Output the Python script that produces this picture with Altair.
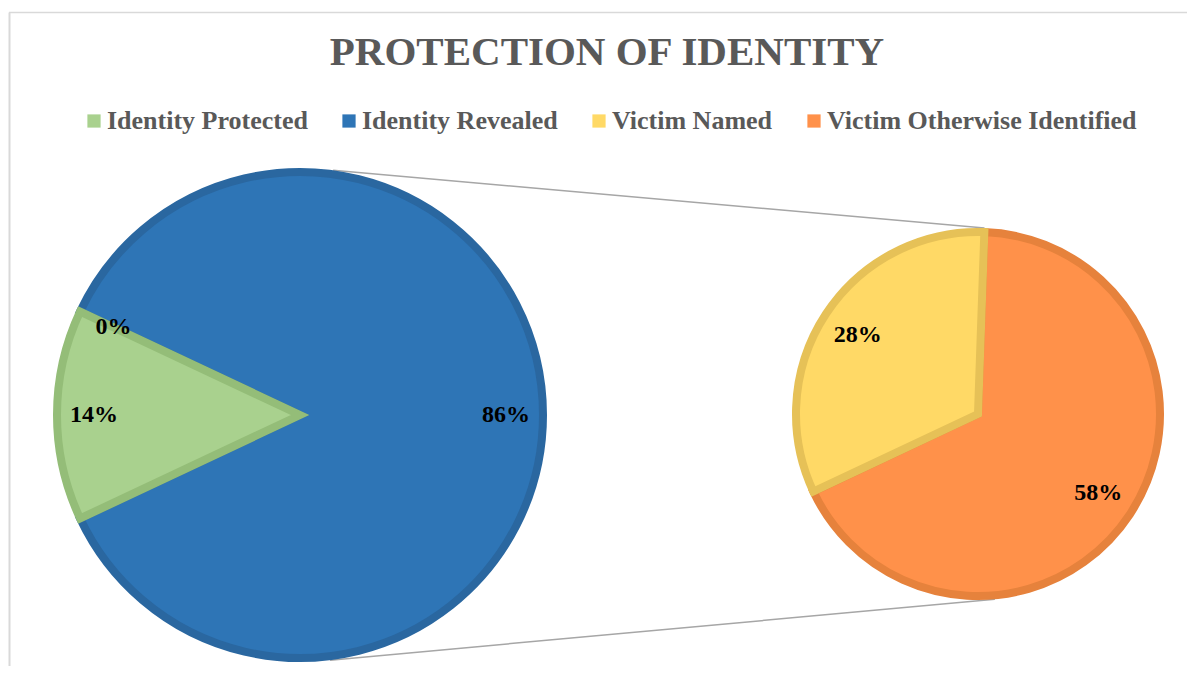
import math
import altair as alt
import pandas as pd

# ---------------- data ----------------
primary_segments = ["Identity Revealed", "Identity Protected", "Unassigned"]
primary_values = [86, 14, 0]
primary_labels = ["86%", "14%", "0%"]

secondary_segments = ["Victim Otherwise Identified", "Victim Named"]
secondary_values = [58, 28]
secondary_labels = ["58%", "28%"]

legend_categories = ["Identity Protected", "Identity Revealed", "Victim Named", "Victim Otherwise Identified"]

title_text = "PROTECTION OF IDENTITY"

# ---------------- styles / geometry ----------------
fill_colors = ["#A9D18E", "#2E75B6", "#FFD966", "#FF914A"]
edge_colors = ["#94BD78", "#2A67A0", "#E6C157", "#E6823C"]
SERIF = "Liberation Serif"

W, H = 1179, 658
L_CX, L_CY, L_R = 292, 407, 247
R_CX, R_CY, R_R = 970, 406, 186
STROKE = 8
left_start = math.radians(-64.8)
right_start = math.radians(2)

primary = pd.DataFrame({
    "segment": primary_segments,
    "value": primary_values,
    "label": primary_labels,
    "ord": list(range(len(primary_segments))),
})
secondary = pd.DataFrame({
    "segment": secondary_segments,
    "value": secondary_values,
    "label": secondary_labels,
    "ord": list(range(len(secondary_segments))),
})

color_scale = alt.Scale(domain=legend_categories, range=fill_colors)
stroke_scale = alt.Scale(domain=legend_categories, range=edge_colors)

legend = alt.Legend(
    orient="none", legendX=73, legendY=100, direction="horizontal", title=None,
    symbolType="square", symbolSize=175, symbolStrokeWidth=0,
    labelFont=SERIF, labelFontSize=26, labelFontWeight="bold",
    labelColor="#595959", labelLimit=0,
    labelOffset=0, columnPadding=28,
)


def pie(df, cx, cy, r, start, label_r):
    theta_scale = alt.Scale(range=[start, start + 2 * math.pi], nice=False, zero=True)
    base = alt.Chart(df).encode(
        theta=alt.Theta("value:Q", stack=True, scale=theta_scale),
        order=alt.Order("ord:Q"),
        detail="segment:N",
    )
    arcs = base.transform_filter("datum.value > 0").mark_arc(
        x=cx, y=cy, outerRadius=r - STROKE / 2, strokeWidth=STROKE, strokeJoin="miter"
    ).encode(
        color=alt.Color("segment:N", scale=color_scale, legend=legend),
        stroke=alt.Stroke("segment:N", scale=stroke_scale, legend=None),
    )
    labels = base.mark_text(
        x=cx, y=cy, radius=label_r, font=SERIF, fontSize=24, fontWeight="bold",
        color="black", align="center", baseline="middle",
    ).encode(text="label:N")
    return alt.layer(arcs, labels)


left_pie = pie(primary, L_CX, L_CY, L_R, left_start, 206)
right_pie = pie(secondary, R_CX, R_CY, R_R, right_start, 144)


def on_circle(cx, cy, r, deg):
    a = math.radians(deg)
    return cx + r * math.sin(a), cy - r * math.cos(a)


top_a = on_circle(L_CX, L_CY, L_R, 7.7)
top_b = on_circle(R_CX, R_CY, R_R, 2.0)
bot_a = on_circle(L_CX, L_CY, L_R, 173.0)
bot_b = on_circle(R_CX, R_CY, R_R, 174.8)
conn = pd.DataFrame({
    "x": [top_a[0], bot_a[0]], "y": [top_a[1], bot_a[1]],
    "x2": [top_b[0], bot_b[0]], "y2": [top_b[1], bot_b[1]],
})
connectors = alt.Chart(conn).mark_rule(color="#A6A6A6", strokeWidth=1.5).encode(
    x=alt.X("x:Q", scale=None), y=alt.Y("y:Q", scale=None),
    x2="x2:Q", y2="y2:Q",
)

frame = pd.DataFrame({"k": [0]})
border_top = alt.Chart(frame).mark_rule(color="#D9D9D9", strokeWidth=1.5).encode(
    x=alt.value(1), x2=alt.value(W), y=alt.value(4.5)
)
border_left = alt.Chart(frame).mark_rule(color="#D9D9D9", strokeWidth=2).encode(
    x=alt.value(1.5), y=alt.value(4.5), y2=alt.value(H)
)

title = alt.Chart(pd.DataFrame({"t": [title_text]})).mark_text(
    x=599, y=45, font=SERIF, fontSize=41, fontWeight="bold", color="#595959",
    align="center", baseline="middle",
).encode(text="t:N")

chart = alt.layer(
    border_top, border_left, connectors, left_pie, right_pie, title
).resolve_scale(
    theta="independent"
).properties(
    width=W, height=H, autosize=alt.AutoSizeParams(type="none"), padding=0,
    background="white",
).configure_view(stroke=None)

chart.save("out.html", embed_options={"renderer": "svg", "actions": False})
